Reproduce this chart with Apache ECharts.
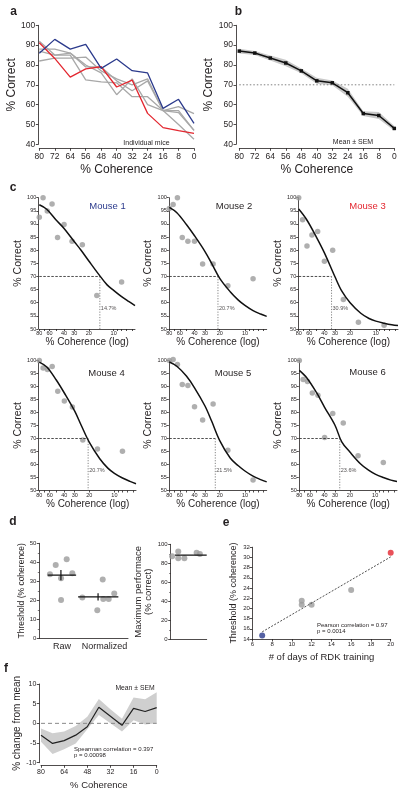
<!DOCTYPE html>
<html><head><meta charset="utf-8">
<script src="https://cdn.jsdelivr.net/npm/echarts@6/dist/echarts.min.js"></script>
<style>html,body{margin:0;padding:0;background:#fff;}#c{width:406px;height:796px;}</style>
</head><body><div id="c"></div>
<script>
const FONT = '"Liberation Sans", Arial, sans-serif';
const TXT = '#231f20';
const BLUE = '#2b3a8c', RED = '#e3262f', GRAYL = '#a8a8a8', GRAYP = '#9b9b9b';

// ---- Panel a: individual mice
const cohA = [80,72,64,56,48,40,32,24,16,8,0];
const aBlue  = [85.9,92.9,88.0,90.4,78.3,83.0,77.1,76.0,58.1,62.7,50.6];
const aRed   = [91.2,83.3,73.9,78.0,79.1,68.9,72.4,55.6,48.4,46.9,45.5];
const aGray1 = [92,85,85,72.5,71.5,71,64,64,57,56,47];
const aGray2 = [82,83.5,83.5,84,77,73,70,73,57,59,55.5];
const aGray3 = [88,88,86,79,79,72,67,72,57,57,47];
const aGray4 = [87,85,86,80,76,65,73,60,57,50,42.5];
// ---- Panel b: mean ± SEM
const bMean = [87,86,83.5,81,77,72,71,66,55.5,54.5,48];
const bSem  = [1.2,1.0,1.3,1.6,1.2,1.5,1.2,2.0,1.2,1.8,1.2];
const bCriterion = 70;
// ---- Panel c: per-mouse psychometric data
const cohC = [80,72,64,56,48,40,32,24,16,8];
const m1 = [92.6,100,94.9,97.6,84.8,89.8,83.4,82.1,62.8,67.9];
const m2 = [95.9,97.4,100,84.8,83.4,83.4,74.8,74.8,66.5,69.1];
const m3 = [100,91.6,81.6,85.8,87.1,75.8,80,61.2,52.6,51.4];
const m4 = [100,97.1,96.5,97.7,88.2,84.4,82.1,69.4,66,65.1];
const m5 = [100,100.4,98.5,90.8,90.4,82.2,77.1,83.3,65.5,54];
const m6 = [100,92.7,91.9,87.5,86.6,70.4,79.6,76,63.4,60.8];
const fitCoh = [80,65,50,40,30,25,20,15,12,10,8,6.5,5.5];
const fit1 = [97.3,95.6,91.5,88.3,83.2,80.1,75.9,70.6,66.8,64.7,62.3,60.4,58.9];
const fit2 = [96.3,94.3,89.8,85.5,79.5,75,69.3,64.2,61,59,57,55.7,54.8];
const fit3 = [95.7,91.8,85.2,79,69.8,64.4,60,56,54,53,52.2,51.6,51.3];
const fit4 = [99.4,97.5,92.5,87.5,80.5,75,68.5,62.2,58.6,56.6,54.8,53.5,52.6];
const fit5 = [99.4,97.8,94,89.5,82.5,76.7,69.2,62.5,59.5,57.5,55.5,54.2,53.3];
const fit6 = [96.2,93.3,87.7,82,75,68.7,64.8,60.3,57.8,56.3,55,54,53.5];
const mouseNames = ['Mouse 1','Mouse 2','Mouse 3','Mouse 4','Mouse 5','Mouse 6'];
const thrX = [14.7,21,33,20.7,22.6,26.4];
const thrTxt = ['14.7%','20.7%','30.9%','20.7%','21.5%','23.6%'];
const cohTickLabels = [80,60,40,30,20,10];
const cohTicks = [80,70,60,50,40,30,20,10,9,8,7,6];
// ---- Panel d
const dGroupPos = [2.05,5.88];
const dGroupNames = ['Raw','Normalized'];
const dRawX = [0.96,1.48,1.96,1.96,2.47,2.98];
const dRaw  = [33.7,38.6,31.6,20.2,41.6,34.2];
const dNormX = [3.88,5.23,5.72,5.77,6.26,6.76];
const dNorm  = [21.5,14.7,30.9,20.7,20.7,23.6];
const dRawMean = 33.3, dRawSem = 2.7, dNormMean = 21.8, dNormSem = 1.9;
const dMaxX = [0.04,0.21,0.21,0.38,0.72,0.81];
const dMax  = [87.4,92.3,85.3,85.3,91.2,89.8];
const dMaxMean = 88.6;
// ---- Panel e
const eDays = [11,11,12,16];
const eThr  = [21.5,20.7,20.7,23.6];
const eBlue = [7,14.7];
const eRed  = [20,30.9];
const eFitX = [7,20];
const eFitY = [15.4,30.1];
// ---- Panel f
const cohF = [80,72,64,56,48,40,32,24,16,8,0];
const fMean  = [-3.0,-5.1,-4.4,-3.0,-0.85,4.1,1.8,-0.5,3.8,3.0,4.0];
const fUpper = [-1.3,-2.5,-2.1,-0.7,1.7,6.2,3.6,1.2,6.6,6.1,7.9];
const fLower = [-4.7,-7.8,-6.6,-5.1,-1.5,2.1,0.0,-2.1,0.8,-0.3,0.0];

const L = Math.log10;
function merge(a,b){const o=Object.assign({},a);for(const k in b){const v=b[k];if(v&&typeof v==='object'&&!Array.isArray(v)&&a[k]&&typeof a[k]==='object'&&!Array.isArray(a[k]))o[k]=merge(a[k],v);else o[k]=v;}return o;}
function ax(extra){return merge({
  type:'value', nameLocation:'middle',
  axisLine:{show:true,onZero:false,lineStyle:{color:TXT,width:0.8}},
  axisTick:{show:true,length:2.5,lineStyle:{color:TXT,width:0.8}},
  splitLine:{show:false},
  axisLabel:{color:TXT,fontFamily:FONT,fontSize:8.5,margin:3},
  nameTextStyle:{color:TXT,fontFamily:FONT,fontSize:12}
},extra||{});}

const grids = [
  {left:39.3,top:25.3,width:154.7,height:119},
  {left:239.3,top:25.3,width:155,height:119},
  {left:39.3,top:197.7,width:95.7,height:131.3},
  {left:169.3,top:197.7,width:97.4,height:131.3},
  {left:298.7,top:197.7,width:99.3,height:131.3},
  {left:39.3,top:360.5,width:96.7,height:130},
  {left:169.3,top:360.5,width:97.4,height:130},
  {left:299.3,top:360.5,width:97.7,height:130},
  {left:39.3,top:543.3,width:88.7,height:95},
  {left:170.7,top:544.3,width:36,height:95},
  {left:252.3,top:547.2,width:138.4,height:91.8},
  {left:41,top:684,width:115.7,height:78.7}
];

const xAxes = [], yAxes = [];
for (const g of [0,1]) {
  xAxes.push(ax({gridIndex:g,min:0,max:80,interval:8,inverse:true,offset:4,name:'% Coherence',nameGap:15,axisLabel:{margin:4}}));
  yAxes.push(ax({gridIndex:g,min:40,max:100,interval:10,offset:g===0?1:3.3,name:'% Correct',nameGap:19}));
}
for (let k=0;k<6;k++){
  const g = 2+k;
  xAxes.push(ax({gridIndex:g,min:L(5.5),max:L(80),inverse:true,name:'% Coherence (log)',nameGap:k<3?7.5:9,
    nameTextStyle:{fontSize:10},
    axisLabel:{fontSize:5.5,margin:1.5,customValues:cohTickLabels.map(L),formatter:v=>String(Math.round(Math.pow(10,v)))},
    axisTick:{length:2,customValues:cohTicks.map(L)}}));
  yAxes.push(ax({gridIndex:g,min:50,max:100,interval:5,offset:(k===0||k===3)?1:0.5,name:'% Correct',nameGap:15,
    nameTextStyle:{fontSize:10.5},axisLabel:{fontSize:5.5,margin:2},axisTick:{length:2}}));
}
xAxes.push(ax({gridIndex:8,min:0,max:8,axisTick:{show:false},axisLabel:{fontSize:9,margin:4,customValues:dGroupPos,formatter:v=>dGroupNames[v<4?0:1]}}));
yAxes.push(ax({gridIndex:8,min:0,max:50,interval:10,name:'Threshold (% coherence)',nameGap:13,nameTextStyle:{fontSize:8.5},
  axisLabel:{fontSize:6,margin:3},minorTick:{show:true,splitNumber:2,length:1.5,lineStyle:{color:TXT,width:0.6}}}));
xAxes.push(ax({gridIndex:9,min:0,max:1,axisTick:{show:false},axisLabel:{show:false}}));
yAxes.push(ax({gridIndex:9,min:0,max:100,interval:20,name:'Maximum performace\n(% correct)',nameGap:12,nameTextStyle:{fontSize:9.5,lineHeight:10},
  axisLabel:{fontSize:6,margin:3},minorTick:{show:true,splitNumber:2,length:1.5,lineStyle:{color:TXT,width:0.6}}}));
xAxes.push(ax({gridIndex:10,min:6,max:20,interval:2,name:'# of days of RDK training',nameGap:13,nameTextStyle:{fontSize:9.5},axisLabel:{fontSize:6,margin:2.5}}));
yAxes.push(ax({gridIndex:10,min:14,max:32,interval:2,name:'Threshold (% coherence)',nameGap:14,nameTextStyle:{fontSize:9},axisLabel:{fontSize:6,margin:2.5}}));
xAxes.push(ax({gridIndex:11,min:0,max:80,interval:16,inverse:true,offset:2.6,name:'% Coherence',nameGap:15,nameTextStyle:{fontSize:9.5},axisLabel:{fontSize:7,margin:3}}));
yAxes.push(ax({gridIndex:11,min:-10,max:10,interval:5,offset:1.7,name:'% change from mean',nameGap:16,nameTextStyle:{fontSize:10},axisLabel:{fontSize:7,margin:3}}));

const series = [];
const line = (g,data,style,extra)=>series.push(Object.assign({type:'line',xAxisIndex:g,yAxisIndex:g,data,symbol:'none',silent:true,animation:false,lineStyle:style},extra||{}));
const pts = (g,data,color,size,extra)=>series.push(Object.assign({type:'scatter',xAxisIndex:g,yAxisIndex:g,data,symbolSize:size,clip:false,animation:false,itemStyle:{color}},extra||{}));
const zip = (xs,ys,fx)=>xs.map((x,i)=>[fx?fx(x):x,ys[i]]);
// shaded band between two value arrays, drawn as one polygon through the axis scales
const band = (g,xs,lo,hi,fill)=>series.push({type:'custom',xAxisIndex:g,yAxisIndex:g,silent:true,animation:false,
  data:[[xs[0],lo[0]]],
  renderItem:(params,api)=>{
    const up = xs.map((x,i)=>api.coord([x,hi[i]]));
    const dn = xs.map((x,i)=>api.coord([x,lo[i]])).reverse();
    return {type:'polygon',shape:{points:up.concat(dn)},style:{fill}};
  }});

// a
for (const arr of [aGray1,aGray2,aGray3,aGray4]) line(0,zip(cohA,arr),{color:GRAYL,width:1.3});
line(0,zip(cohA,aRed),{color:RED,width:1.3});
line(0,zip(cohA,aBlue),{color:BLUE,width:1.3});
// b
band(1,cohA,bMean.map((m,i)=>m-bSem[i]),bMean.map((m,i)=>m+bSem[i]),'#c9c9c9');
line(1,[[cohA[0],bCriterion],[cohA[cohA.length-1],bCriterion]],{color:'#808080',width:1,type:[1.5,2]});
line(1,zip(cohA,bMean),{color:'#111',width:1.5},{symbol:'rect',symbolSize:3.5,itemStyle:{color:'#111'}});
// c
const mice = [m1,m2,m3,m4,m5,m6], fits=[fit1,fit2,fit3,fit4,fit5,fit6];
for (let k=0;k<6;k++){
  const g=2+k;
  line(g,[[L(80),70],[L(thrX[k]),70]],{color:'#222',width:0.8,type:[2.5,1.5]});
  line(g,[[L(thrX[k]),70],[L(thrX[k]),50]],{color:'#777',width:0.9,type:[1.2,1.5]});
  pts(g,zip(cohC,mice[k],L),GRAYP,5.5);
  line(g,zip(fitCoh,fits[k],L),{color:'#111',width:1.5},{smooth:0.35});
  pts(g,[[L(thrX[k]),57.8]],'transparent',0,{label:{show:true,position:'right',distance:1,formatter:thrTxt[k],fontSize:5.5,fontFamily:FONT,color:TXT}});
}
// d
pts(8,zip(dRawX,dRaw),GRAYP,6);
pts(8,zip(dNormX,dNorm),GRAYP,6);
line(8,[[0.76,dRawMean],[3.32,dRawMean]],{color:'#111',width:1.2});
line(8,[[dGroupPos[0]-0.1,dRawMean-dRawSem],[dGroupPos[0]-0.1,dRawMean+dRawSem]],{color:'#111',width:1.2});
line(8,[[3.5,dNormMean],[7.13,dNormMean]],{color:'#111',width:1.2});
line(8,[[5.3,dNormMean-dNormSem],[5.3,dNormMean+dNormSem]],{color:'#111',width:1.2});
pts(9,zip(dMaxX,dMax),GRAYP,6);
line(9,[[0.12,dMaxMean],[1,dMaxMean]],{color:'#111',width:1.2});
// e
line(10,zip(eFitX,eFitY),{color:'#222',width:0.8,type:[2,1.5]});
pts(10,zip(eDays,eThr),GRAYP,6);
pts(10,[eBlue],BLUE,6);
pts(10,[eRed],RED,6);
// f
band(11,cohF,fLower,fUpper,'#cfcfcf');
line(11,[[80,0],[0,0]],{color:'#8a8a8a',width:1,type:[4,3]});
line(11,zip(cohF,fMean),{color:'#222',width:1.2});

const T=(x,y,text,size,opt)=>({type:'text',x,y,silent:true,style:Object.assign({text,fill:TXT,fontSize:size,fontFamily:FONT,align:'center',verticalAlign:'middle'},opt||{})});
const graphic = [
  T(13.5,12,'a',12,{fontWeight:'bold'}), T(238.5,12,'b',12,{fontWeight:'bold'}),
  T(13,188,'c',12,{fontWeight:'bold'}), T(13,522,'d',12,{fontWeight:'bold'}),
  T(226,523,'e',12,{fontWeight:'bold'}), T(6,669,'f',12,{fontWeight:'bold'}),
  T(146.5,142.7,'Individual mice',7), T(353,141.7,'Mean ± SEM',7),
  T(107.5,206,mouseNames[0],9.5,{fill:BLUE}), T(234,206.5,mouseNames[1],9.5),
  T(367.5,206,mouseNames[2],9.5,{fill:RED}), T(106.5,373,mouseNames[3],9.5),
  T(233,373,mouseNames[4],9.5), T(367.5,372.7,mouseNames[5],9.5),
  T(317,625,'Pearson correlation = 0.97',6,{align:'left'}), T(317,631.7,'p = 0.0014',6,{align:'left'}),
  T(135,688.3,'Mean ± SEM',6.8), T(74,749.3,'Spearman correlation = 0.397',6,{align:'left'}),
  T(74,755.5,'p = 0.00098',6,{align:'left'})
];

const chart = echarts.init(document.getElementById('c'),null,{renderer:'canvas'});
chart.setOption({animation:false,backgroundColor:'#fff',grid:grids,xAxis:xAxes,yAxis:yAxes,series,graphic});
</script></body></html>
